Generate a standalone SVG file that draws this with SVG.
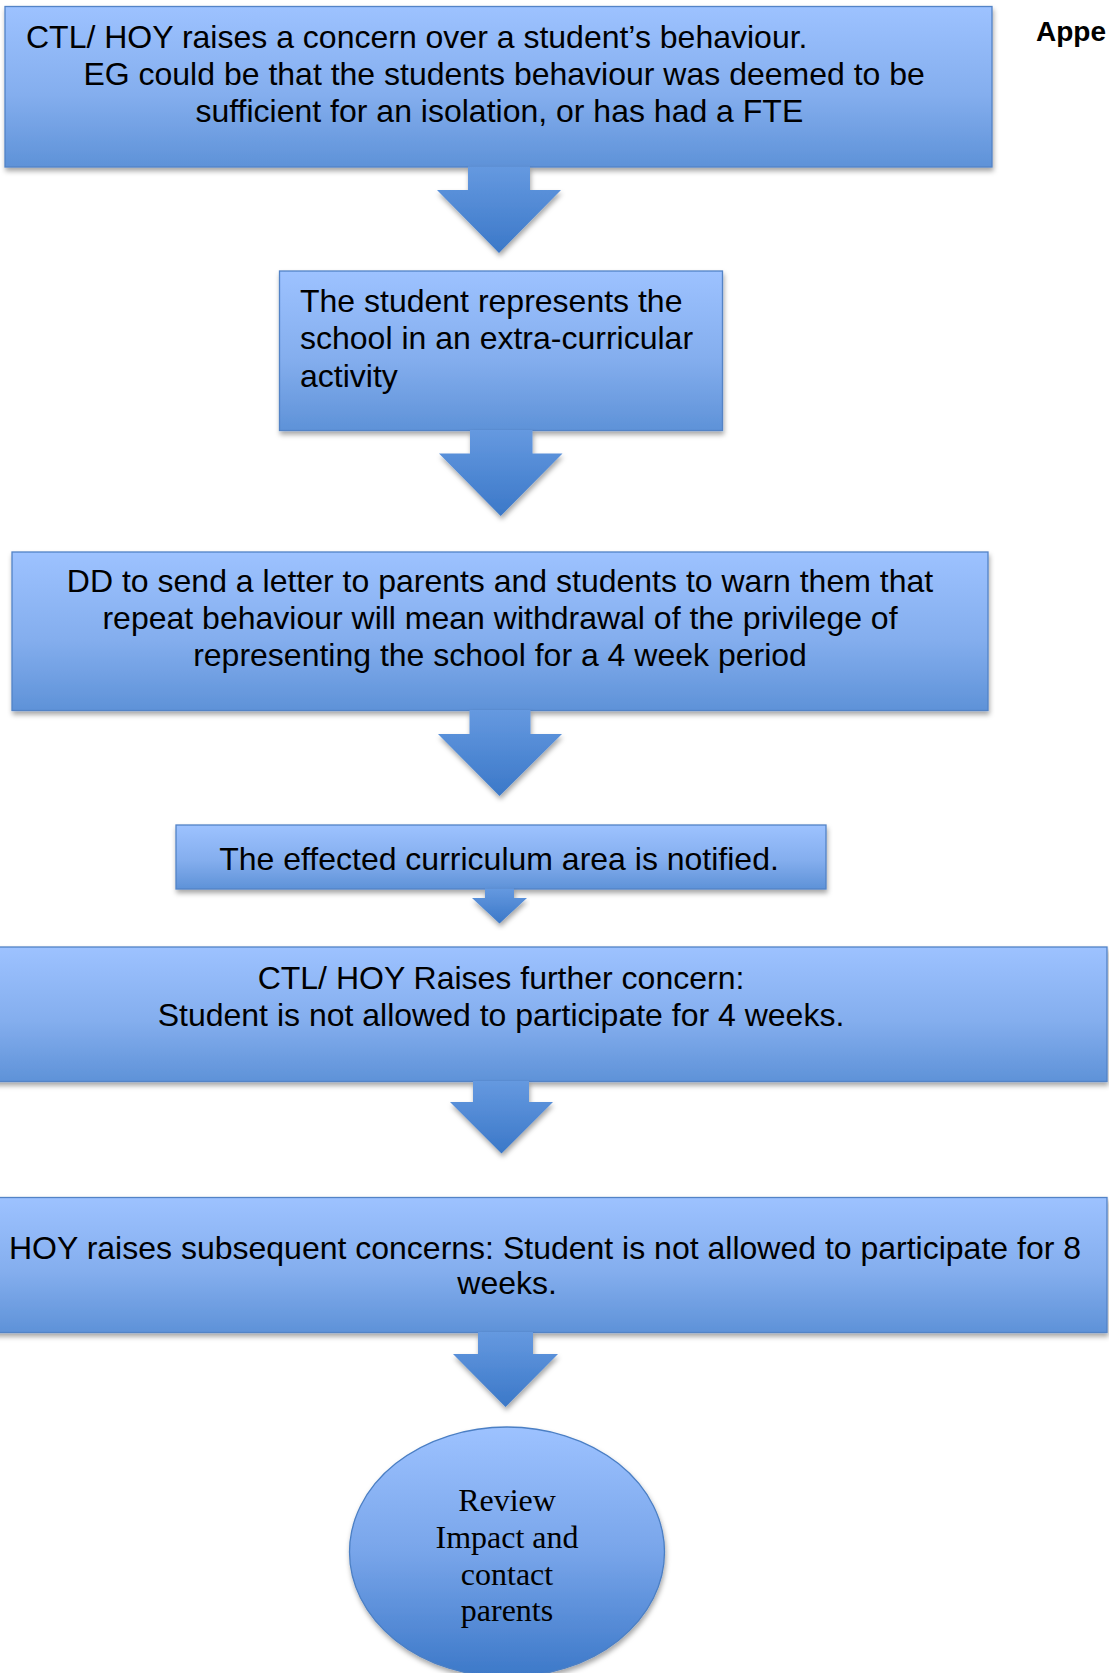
<svg xmlns="http://www.w3.org/2000/svg" width="1109" height="1673" viewBox="0 0 1109 1673">
  <defs>
    <linearGradient id="boxGrad" x1="0" y1="0" x2="0" y2="1">
      <stop offset="0" stop-color="#9DC2FF"/>
      <stop offset="0.55" stop-color="#84AEEE"/>
      <stop offset="1" stop-color="#5E92D8"/>
    </linearGradient>
    <linearGradient id="arrowGrad" x1="0" y1="0" x2="0" y2="1">
      <stop offset="0" stop-color="#6599E0"/>
      <stop offset="1" stop-color="#3B78C8"/>
    </linearGradient>
    <linearGradient id="ellGrad" x1="0" y1="0" x2="0" y2="1">
      <stop offset="0" stop-color="#9DC2FF"/>
      <stop offset="0.5" stop-color="#78A5EA"/>
      <stop offset="1" stop-color="#3C78C8"/>
    </linearGradient>
    <filter id="shadow" x="-5%" y="-10%" width="110%" height="130%">
      <feDropShadow dx="1" dy="3.5" stdDeviation="2.5" flood-color="#000" flood-opacity="0.35"/>
    </filter>
  </defs>
  <style>
    .box { fill: url(#boxGrad); stroke: #5283C6; stroke-width: 1.3; filter: url(#shadow); }
    .ell { fill: url(#ellGrad); stroke: #4B7FC4; stroke-width: 1.3; filter: url(#shadow); }
    .arrow { fill: url(#arrowGrad); stroke: none; filter: url(#shadow); }
    .t { font-family: "Liberation Sans", Arial, sans-serif; font-size: 32px; fill: #000; }
    .m { text-anchor: middle; }
    .serif { font-family: "Liberation Serif", "Times New Roman", serif; font-size: 32px; fill: #000; text-anchor: middle; }
    .hdr { font-family: "Liberation Sans", Arial, sans-serif; font-size: 28px; font-weight: bold; fill: #000; }
  </style>
  <rect width="1109" height="1673" fill="#FFFFFF"/>

  <g id="header">
    <text class="hdr" x="1036" y="41">Appe</text>
  </g>

  <g id="node1">
    <rect class="box" x="5" y="6.5" width="987" height="160.5"/>
    <text class="t" x="26" y="47.5">CTL/ HOY raises a concern over a student’s behaviour.</text>
    <text class="t" x="83.4" y="84.5">EG could be that the students behaviour was deemed to be</text>
    <text class="t" x="195.5" y="121.5">sufficient for an isolation, or has had a FTE</text>
  </g>

  <g id="node2">
    <rect class="box" x="279.5" y="271" width="443" height="159.5"/>
    <text class="t" x="300" y="311.7">The student represents the</text>
    <text class="t" x="300" y="349">school in an extra-curricular</text>
    <text class="t" x="300" y="386.5">activity</text>
  </g>

  <g id="node3">
    <rect class="box" x="12" y="552" width="976" height="158.5"/>
    <text class="t m" x="500" y="591.7">DD to send a letter to parents and students to warn them that</text>
    <text class="t m" x="500" y="628.5">repeat behaviour will mean withdrawal of the privilege of</text>
    <text class="t m" x="500" y="665.5">representing the school for a 4 week period</text>
  </g>

  <g id="node4">
    <rect class="box" x="176" y="825" width="650" height="64"/>
    <text class="t m" x="499" y="870">The effected curriculum area is notified.</text>
  </g>

  <g id="node5">
    <rect class="box" x="-10" y="947" width="1117" height="134.5"/>
    <text class="t m" x="501" y="989.3">CTL/ HOY Raises further concern:</text>
    <text class="t m" x="501" y="1026">Student is not allowed to participate for 4 weeks.</text>
  </g>

  <g id="node6">
    <rect class="box" x="-10" y="1197.5" width="1117" height="135"/>
    <text class="t" x="9" y="1259">HOY raises subsequent concerns: Student is not allowed to participate for 8</text>
    <text class="t" x="457.3" y="1294">weeks.</text>
  </g>

  <g id="node7">
    <ellipse class="ell" cx="507" cy="1552" rx="157.5" ry="125"/>
    <text class="serif" x="507" y="1511">Review</text>
    <text class="serif" x="507" y="1548">Impact and</text>
    <text class="serif" x="507" y="1584.5">contact</text>
    <text class="serif" x="507" y="1621">parents</text>
  </g>

  <g id="connectors">
    <path class="arrow" d="M468,166.5 L530,166.5 L530,190 L561,190 L499,253 L437,190 L468,190 Z"/>
    <path class="arrow" d="M470,430 L532.5,430 L532.5,453.5 L562.5,453.5 L500.7,516 L439,453.5 L470,453.5 Z"/>
    <path class="arrow" d="M469.5,710 L530.5,710 L530.5,734 L562,734 L499.5,796 L438,734 L469.5,734 Z"/>
    <path class="arrow" d="M485,888.5 L514,888.5 L514,898 L527,898 L499.5,923.5 L472,898 L485,898 Z"/>
    <path class="arrow" d="M473,1081 L529,1081 L529,1102 L553,1102 L501.5,1153.5 L450,1102 L473,1102 Z"/>
    <path class="arrow" d="M478,1332 L533,1332 L533,1354 L558,1354 L505.5,1407 L453,1354 L478,1354 Z"/>
  </g>
</svg>
